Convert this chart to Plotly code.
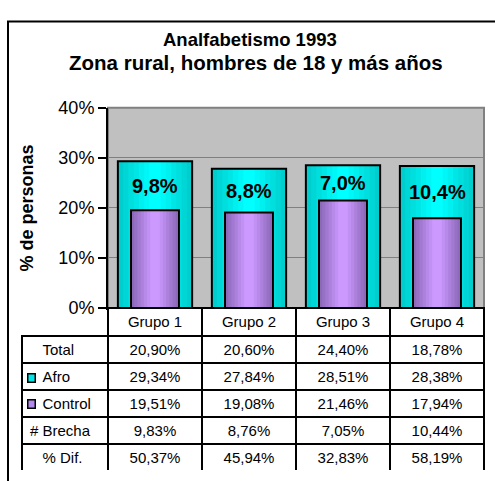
import plotly.graph_objects as go

# ---------------- data ----------------
categories = ["Grupo 1", "Grupo 2", "Grupo 3", "Grupo 4"]
total = [20.90, 20.60, 24.40, 18.78]
afro = [29.34, 27.84, 28.51, 28.38]
control = [19.51, 19.08, 21.46, 17.94]
brecha = [9.83, 8.76, 7.05, 10.44]
dif = [50.37, 45.94, 32.83, 58.19]
brecha_labels = ["9,8%", "8,8%", "7,0%", "10,4%"]
y_ticks = [0, 10, 20, 30, 40]
y_ticktext = ["0%", "10%", "20%", "30%", "40%"]

title_line1 = "Analfabetismo 1993"
title_line2 = "Zona rural, hombres de 18 y más años"
y_title = "% de personas"

FONT = "Liberation Sans, Arial, sans-serif"
W, H = 495, 481
AFRO_COLOR = "#00E6E6"
CONTROL_COLOR = "#B388EE"


def fmt(v):
    return f"{v:.2f}".replace(".", ",") + "%"


def lerp_color(c1, c2, t):
    return "rgb({},{},{})".format(*[round(a + (b - a) * t) for a, b in zip(c1, c2)])


fig = go.Figure()

# Afro bars: horizontal gradient (dark edges, bright centre)
afro_w = 0.79
cy_edge, cy_mid = (0, 206, 206), (0, 255, 255)
steps = 7
for i in range(steps):
    t = i / (steps - 1)
    w = afro_w * (1 - 0.85 * t)
    fig.add_trace(go.Bar(x=categories, y=afro, width=w,
                         marker=dict(color=lerp_color(cy_edge, cy_mid, t), line=dict(width=0)),
                         showlegend=False, hoverinfo="skip"))
fig.add_trace(go.Bar(x=categories, y=afro, width=afro_w, name="Afro",
                     marker=dict(color="rgba(0,0,0,0)", line=dict(color="black", width=2)),
                     showlegend=False, hoverinfo="skip"))

# Control bars
ctl_w = 0.51
pu_edge, pu_mid = (140, 105, 185), (204, 153, 255)
for i in range(steps):
    t = i / (steps - 1)
    w = ctl_w * (1 - 0.8 * t)
    fig.add_trace(go.Bar(x=categories, y=control, width=w,
                         marker=dict(color=lerp_color(pu_edge, pu_mid, t), line=dict(width=0)),
                         showlegend=False, hoverinfo="skip"))
fig.add_trace(go.Bar(x=categories, y=control, width=ctl_w, name="Control",
                     marker=dict(color="rgba(0,0,0,0)", line=dict(color="black", width=2)),
                     showlegend=False, hoverinfo="skip"))

# gap labels between the bars
for c, a, k, lab in zip(categories, afro, control, brecha_labels):
    fig.add_annotation(x=c, y=(a + k) / 2, text=f"<b>{lab}</b>", showarrow=False,
                       xanchor="center", yanchor="middle",
                       font=dict(family=FONT, size=20, color="black"))

# data table
NB = "\u00a0"
row_labels = [NB * 3 + "Total", NB * 3 + "Afro", NB * 3 + "Control", "#" + NB + "Brecha", NB * 3 + "%" + NB + "Dif."]
cols = [row_labels]
for j in range(len(categories)):
    cols.append([fmt(total[j]), fmt(afro[j]), fmt(control[j]), fmt(brecha[j]), fmt(dif[j])])

clear = "rgba(0,0,0,0)"
fig.add_trace(go.Table(
    domain=dict(x=[22 / W, 484 / W], y=[0, 170 / H]),
    columnwidth=[86, 94, 94, 94, 94],
    header=dict(values=[""] + categories,
                fill=dict(color=[clear] + ["white"] * 4),
                line=dict(color=[clear] + ["black"] * 4, width=2),
                font=dict(family=FONT, size=15, color="black"),
                align="center", height=28),
    cells=dict(values=cols,
               fill=dict(color="white"),
               line=dict(color="black", width=2),
               font=dict(family=FONT, size=15, color="black"),
               align=["left"] + ["center"] * 4, height=27),
))

# legend keys in the table's row labels
for col, row_y in [(AFRO_COLOR, 384), (CONTROL_COLOR, 411)]:
    fig.add_annotation(xref="paper", yref="paper", x=31 / W, y=1 - row_y / H, text="",
                       xanchor="center", yanchor="middle",
                       width=6, height=7, bgcolor=col, bordercolor="black", borderwidth=1.5,
                       borderpad=0, showarrow=False)

# title
fig.add_annotation(xref="paper", yref="paper", x=250 / W, y=1 - 31 / H, text=f"<b>{title_line1}</b>",
                   xanchor="center", yanchor="middle",
                   showarrow=False, font=dict(family=FONT, size=18.5, color="black"))
fig.add_annotation(xref="paper", yref="paper", x=256 / W, y=1 - 55 / H, text=f"<b>{title_line2}</b>",
                   xanchor="center", yanchor="middle",
                   showarrow=False, font=dict(family=FONT, size=20.5, color="black"))

# plot frame (grey top/right border) and outer chart border
fig.add_shape(type="rect", xref="x domain", yref="y domain", x0=0, x1=1, y0=0, y1=1,
              line=dict(color="#808080", width=2), layer="below")
fig.add_shape(type="rect", xref="paper", yref="paper", x0=8 / W, x1=1.05, y0=-0.05, y1=1 - 12 / H,
              line=dict(color="black", width=2))

fig.update_layout(
    width=W, height=H,
    margin=dict(l=0, r=0, t=0, b=0),
    paper_bgcolor="white", plot_bgcolor="#C0C0C0",
    barmode="overlay",
    font=dict(family=FONT, color="black"),
    xaxis=dict(domain=[108 / W, 484 / W], range=[-0.5, 3.5], showticklabels=False, ticks="",
               showline=True, linecolor="black", linewidth=2, showgrid=False, zeroline=False),
    yaxis=dict(domain=[170 / H, 379 / H], range=[0, 40], tickvals=y_ticks, ticktext=y_ticktext,
               ticks="outside", ticklen=8, tickwidth=2, tickcolor="black",
               showline=True, linecolor="black", linewidth=2,
               showgrid=True, gridcolor="#808080", gridwidth=1, zeroline=False,
               tickfont=dict(family=FONT, size=18, color="black"),
               title=dict(text=f"<b>{y_title}</b>", font=dict(family=FONT, size=18, color="black"),
                          standoff=20)),
)

fig.write_html("out.html", config={"displayModeBar": False},
               post_script="document.body.style.margin='0';")
